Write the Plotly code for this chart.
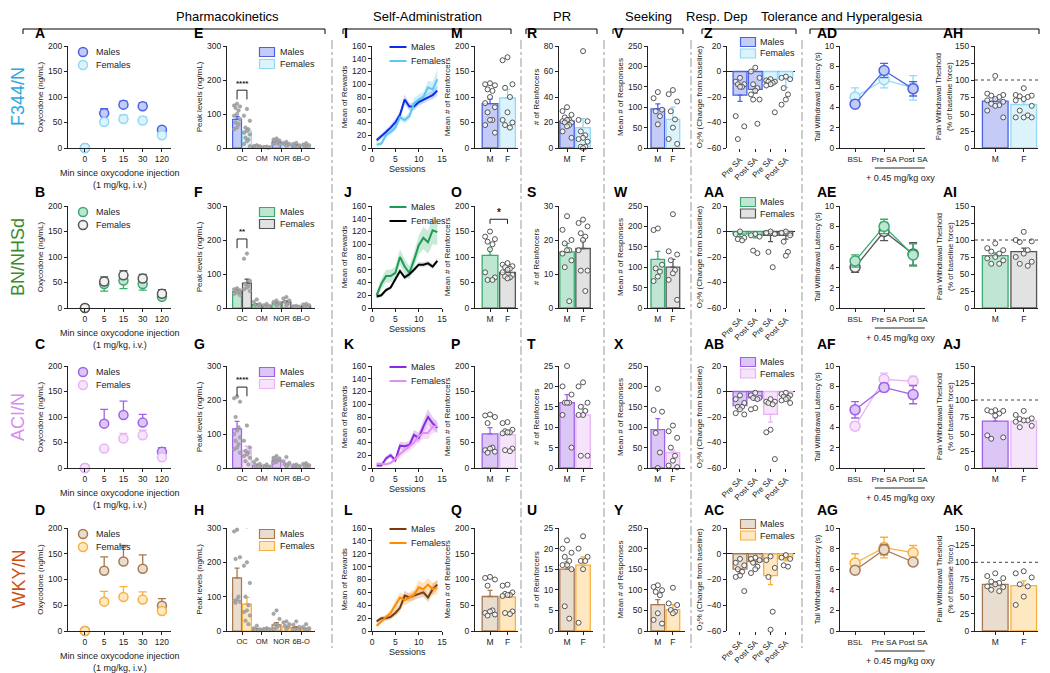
import plotly.graph_objects as go

W, H = 1050, 673
FONT = "Arial, Liberation Sans, sans-serif"
INK = "#222222"

# ---------------- data ----------------
STRAINS = ["F344/N", "BN/NHSd", "ACI/N", "WKY/N"]
STRAIN_COLORS = ["#29a9e1", "#3c8c2c", "#d98cf2", "#cc4e12"]
MALE_EDGE = ["#4a63e6", "#3aaa70", "#a060e8", "#a87850"]
MALE_FILL = ["#c3cbf6", "#bfe6d2", "#dcc6f6", "#e9ddd0"]
FEMALE_EDGE = ["#92d9f6", "#555555", "#e8b4f6", "#f8b040"]
FEMALE_FILL = ["#dcf3fc", "#e2e2e2", "#f6e4fb", "#fde8c2"]
MALE_LINE = ["#0a2ee6", "#1f9a55", "#8a2be2", "#7a3b0c"]
FEMALE_LINE = ["#5cc8f2", "#000000", "#e090f0", "#ff8a00"]
MALE_BAND = ["rgba(80,100,230,0.25)", "rgba(40,170,100,0.25)", "rgba(140,60,220,0.25)", "rgba(150,90,40,0.25)"]
FEMALE_BAND = ["rgba(90,200,240,0.30)", "rgba(120,120,120,0.25)", "rgba(225,145,240,0.30)", "rgba(255,160,40,0.30)"]
SEX_NAMES = ["Males", "Females"]

# Pharmacokinetics (A-D)
PK_TIMES = ["0", "5", "15", "30", "120"]
PK_M_MEAN = [[0, 68, 85, 82, 36], [0, 47, 54, 47, 22], [0, 87, 104, 89, 32], [0, 117, 135, 121, 49]]
PK_M_SEM = [[0, 9, 7, 7, 5], [0, 14, 16, 12, 5], [0, 28, 27, 16, 8], [0, 27, 31, 27, 14]]
PK_F_MEAN = [[0, 51, 57, 54, 25], [0, 52, 64, 58, 28], [0, 38, 58, 64, 21], [0, 57, 66, 61, 39]]
PK_F_SEM = [[0, 6, 8, 7, 4], [0, 9, 9, 8, 8], [0, 4, 10, 10, 6], [0, 20, 20, 15, 3]]

# Peak levels (E-H)
METABS = ["OC", "OM", "NOR", "6B-O"]
PEAK_M_MEAN = [[84, 5, 18, 8], [48, 10, 14, 4], [115, 8, 23, 6], [155, 5, 18, 10]]
PEAK_M_SEM = [[8, 1, 2, 2], [5, 3, 2, 1], [22, 3, 3, 1], [28, 2, 6, 3]]
PEAK_F_MEAN = [[50, 3, 10, 7], [73, 6, 18, 6], [52, 4, 12, 8], [78, 5, 12, 7]]
PEAK_F_SEM = [[8, 1, 2, 2], [12, 1, 3, 1], [12, 1, 3, 1], [20, 1, 3, 2]]
PEAK_M_DOTS = [
    [[130, 125, 122, 118, 110, 100, 95, 85, 75, 70, 60, 55], [8, 6, 5, 4, 3, 3], [28, 25, 22, 20, 18, 15, 12, 10], [15, 12, 8, 5, 3]],
    [[58, 55, 52, 50, 48, 45, 42, 38], [25, 18, 12, 8, 5, 3], [22, 18, 15, 12, 10, 8], [6, 5, 4, 3, 2]],
    [[210, 205, 195, 150, 120, 110, 100, 90, 80, 70, 60, 55, 45], [25, 18, 12, 8, 5], [35, 30, 28, 25, 22, 18, 15], [10, 8, 6, 4, 3]],
    [[295, 290, 215, 210, 100, 92, 88, 85, 82], [15, 8, 5, 3, 2], [60, 50, 35, 20, 15, 10, 5], [28, 18, 12, 5, 3]],
]
PEAK_F_DOTS = [
    [[115, 95, 80, 60, 55, 50, 45, 40, 30, 25, 20, 12, 5], [4, 3, 2, 2, 1], [18, 15, 12, 10, 8, 6], [14, 10, 8, 5, 3]],
    [[160, 145, 80, 70, 65, 60, 55, 50], [12, 8, 6, 4, 3], [32, 28, 22, 18, 12, 8], [12, 10, 8, 5, 3]],
    [[125, 80, 60, 50, 45, 40, 35, 30, 20, 10], [10, 6, 4, 3, 2], [32, 20, 15, 10, 8, 5], [14, 12, 8, 6, 4]],
    [[200, 190, 140, 100, 75, 60, 55, 45, 30, 20], [8, 6, 5, 4, 3], [28, 25, 20, 15, 10, 5], [20, 12, 8, 5, 3]],
]
PEAK_SIG = ["****", "**", "****", "***"]
PEAK_SIG_Y = [170, 203, 238, 326]

# Self-administration (I-L)
SESSIONS = list(range(1, 15))
SA_M_MEAN = [
    [12, 18, 25, 32, 40, 52, 76, 65, 65, 72, 76, 80, 83, 90],
    [20, 38, 50, 50, 55, 80, 65, 55, 75, 98, 110, 103, 122, 119],
    [4, 4, 15, 20, 12, 35, 34, 36, 52, 47, 65, 80, 70, 63],
    [15, 20, 20, 22, 28, 36, 55, 52, 55, 58, 60, 52, 65, 72],
]
SA_M_SEM = [
    [4, 4, 5, 5, 6, 6, 8, 6, 6, 6, 6, 6, 7, 8],
    [5, 8, 10, 10, 10, 12, 12, 10, 12, 15, 18, 18, 22, 20],
    [2, 2, 4, 4, 4, 6, 6, 6, 8, 8, 10, 12, 10, 8],
    [3, 3, 4, 4, 5, 6, 8, 6, 6, 7, 7, 7, 8, 8],
]
SA_F_MEAN = [
    [5, 7, 20, 25, 32, 48, 44, 50, 70, 76, 80, 95, 92, 108],
    [18, 20, 28, 32, 45, 58, 48, 53, 60, 68, 68, 70, 65, 74],
    [7, 6, 6, 8, 14, 22, 28, 33, 40, 50, 55, 55, 65, 66],
    [8, 15, 22, 28, 40, 52, 48, 52, 56, 68, 65, 72, 65, 68],
]
SA_F_SEM = [
    [3, 3, 4, 4, 5, 5, 5, 6, 8, 8, 8, 10, 12, 15],
    [3, 3, 3, 3, 4, 4, 4, 4, 4, 4, 4, 4, 4, 4],
    [2, 2, 2, 3, 4, 5, 6, 6, 8, 8, 10, 10, 10, 10],
    [3, 3, 4, 5, 8, 8, 8, 8, 8, 10, 10, 10, 10, 10],
]

SEX_LABELS = ["M", "F"]

# Mean # of reinforcers (M, O, P, Q)
REIN_M_MEAN = [87, 103, 67, 67]
REIN_M_SEM = [9, 13, 12, 12]
REIN_F_MEAN = [98, 70, 65, 66]
REIN_F_SEM = [17, 4, 5, 5]
REIN_M_DOTS = [
    [127, 125, 123, 115, 112, 100, 88, 80, 70, 55, 55, 45, 30],
    [150, 140, 135, 130, 125, 115, 70, 60, 55, 55],
    [105, 103, 100, 88, 40, 38, 35, 32, 30],
    [105, 103, 100, 88, 40, 38, 35, 32, 30],
]
REIN_F_DOTS = [
    [178, 172, 125, 118, 100, 70, 55, 50, 45, 40],
    [88, 85, 82, 80, 77, 75, 70, 65, 62, 60, 58],
    [90, 88, 75, 72, 70, 70, 68, 38, 35, 33],
    [90, 88, 75, 72, 70, 70, 68, 38, 35, 33],
]

# PR (R-U)
PR_M_MEAN = [21, 16.5, 16, 15]
PR_M_SEM = [2, 2.5, 2, 1.8]
PR_F_MEAN = [16, 17.5, 13, 16]
PR_F_SEM = [7, 2.2, 2.5, 2]
PR_YMAX = [80, 30, 25, 25]
PR_DTICK = [20, 10, 5, 5]
PR_M_DOTS = [
    [32, 29, 26, 24, 22, 22, 21, 20, 20, 18, 17, 13, 8],
    [27, 23, 20, 19, 17, 17, 16, 14, 12, 2],
    [25, 20, 18, 16, 16, 16, 13, 5],
    [22, 20, 19, 18, 17, 16, 16, 15, 6, 3],
]
PR_F_DOTS = [
    [76, 22, 21, 13, 10, 8, 7, 5, 1, 1, 0],
    [26, 25, 24, 22, 21, 20, 17, 11, 11, 5],
    [21, 20, 16, 15, 14, 13, 13, 3, 3],
    [23, 20, 18, 17, 17, 15, 2],
]

# Seeking (V-Y)
SEEK_M_MEAN = [96, 119, 94, 64]
SEEK_M_SEM = [12, 20, 27, 12]
SEEK_F_MEAN = [70, 100, 38, 52]
SEEK_F_SEM = [30, 19, 6, 12]
SEEK_M_DOTS = [
    [137, 122, 94, 90, 78, 58],
    [195, 191, 106, 97, 89, 77, 66],
    [194, 142, 138, 86, 38, 0],
    [111, 107, 99, 95, 87, 43, 27, 18],
]
SEEK_F_DOTS = [
    [142, 132, 114, 90, 70, 50, 22, 10],
    [230, 139, 131, 117, 93, 85, 69, 20],
    [104, 90, 74, 50, 30, 18, 6, 2],
    [105, 67, 63, 51, 47, 43],
]

# Respiratory depression (Z-AC): Males Pre, Males Post, Females Pre, Females Post
RESP_LABELS = ["Pre SA", "Post SA", "Pre SA", "Post SA"]
RESP_MEAN = [[-18.5, -14, -8.5, -5.5], [-2, -3, -3, -3], [-11, -5, -18, -3], [-12, -6, -17, -4]]
RESP_SEM = [[5, 3, 3, 7], [2, 2, 5, 3], [3, 2, 6, 1], [3, 2, 7, 1.5]]
RESP_DOTS = [
    [[-5, -8, -10, -10, -12, -12, -35, -43, -53], [3, 0, -5, -10, -13, -15, -18, -22, -22, -41],
     [-6, -7, -8, -8, -9, -10, -11, -32], [-4, -5, -6, -13, -18, -22, -26]],
    [[0, -2, -5, -6, -7], [-2, -3, -4, -15, -17], [0, -1, -2, -16, -28], [0, -1, -3, -8, -16, -19]],
    [[-3, -6, -9, -12, -12, -14, -17, -18], [-1, -3, -5, -5, -6, -13, -14],
     [-6, -8, -8, -9, -10, -30, -32, -53], [-1, -2, -3, -4, -5, -6, -7, -9]],
    [[-4, -7, -9, -12, -14, -17, -18, -29], [-3, -4, -5, -7, -10, -12, -15],
     [-2, -5, -11, -18, -45, -59], [-1, -3, -4, -9, -10]],
]

# Tail withdrawal (AD-AG)
TAIL_LABELS = ["BSL", "Pre SA", "Post SA"]
TAIL_M = [[4.3, 7.6, 5.8], [4.6, 8.0, 5.2], [5.7, 7.9, 7.2], [5.9, 7.9, 6.7]]
TAIL_M_SEM = [[0.3, 0.7, 0.7], [0.6, 0.7, 1.1], [0.8, 0.4, 0.9], [0.3, 0.5, 0.3]]
TAIL_F = [[5.0, 6.7, 5.9], [4.0, 7.5, 5.3], [4.1, 8.7, 8.5], [6.6, 8.1, 7.6]]
TAIL_F_SEM = [[0.9, 0.8, 1.2], [0.5, 0.9, 1.1], [0.4, 0.6, 0.5], [0.9, 1.0, 0.7]]

# Pain withdrawal threshold (AH-AK)
PAIN_M_MEAN = [69, 77, 69, 68]
PAIN_M_SEM = [4, 4, 5, 4]
PAIN_F_MEAN = [64, 83, 69, 66]
PAIN_F_SEM = [4, 5, 3, 7]
PAIN_M_DOTS = [
    [106, 80, 78, 77, 75, 72, 70, 68, 65, 63, 62, 55, 45],
    [95, 88, 85, 83, 80, 75, 73, 70, 65, 65],
    [85, 85, 84, 83, 80, 77, 48, 45, 43],
    [84, 80, 77, 72, 70, 68, 65, 64, 60, 58],
]
PAIN_F_DOTS = [
    [88, 78, 77, 76, 75, 72, 70, 62, 55, 48, 45, 45, 45],
    [112, 100, 98, 97, 85, 80, 75, 68, 65, 62],
    [84, 78, 73, 72, 70, 70, 68, 62, 60],
    [87, 84, 78, 68, 65, 50, 38],
]

LETTERS = {
    "pk": ["A", "B", "C", "D"], "peak": ["E", "F", "G", "H"], "sess": ["I", "J", "K", "L"],
    "rein": ["M", "O", "P", "Q"], "pr": ["R", "S", "T", "U"], "seek": ["V", "W", "X", "Y"],
    "resp": ["Z", "AA", "AB", "AC"], "tail": ["AD", "AE", "AF", "AG"], "pain": ["AH", "AI", "AJ", "AK"],
}
SECTIONS = [("Pharmacokinetics", 23, 325), ("Self-Administration", 343, 511), ("PR", 526, 597),
            ("Seeking", 613, 683), ("Resp. Dep", 702, 796), ("Tolerance and Hyperalgesia", 810, 1039)]
PK_XTITLE = ["Min since oxycodone injection", "(1 mg/kg, i.v.)"]
PAIN_YTITLE = ["Pain Withdrawal Theshold", "(% of baseline force)"]

# ---------------- layout geometry (pixels) ----------------
ROW_TOP = [46, 206, 366, 528]
ROW_BOT = [148, 308, 468, 631]
LETTER_Y = [33, 192, 344, 510]
COLS = {
    "pk": (68, 171, [-0.88, 4.47]),
    "peak": (227, 315, [-0.76, 3.7]),
    "sess": (372, 442, [0, 15]),
    "rein": (475, 518, [-0.86, 1.6]),
    "pr": (559, 593, [-0.5, 1.62]),
    "seek": (648, 685, [-0.65, 1.8]),
    "resp": (727, 795, [-0.85, 3.6]),
    "tail": (840, 925, [-0.52, 2.41]),
    "pain": (975, 1038, [-0.71, 1.5]),
}
LETTER_X = {"pk": 33, "peak": 192, "sess": 342, "rein": 449, "pr": 525, "seek": 612,
            "resp": 702, "tail": 815, "pain": 941}
PAIN_TITLE_X = [939, 950]
DASH_X = [332, 521, 604, 691, 802]
TICKF = dict(size=8.5, color=INK, family=FONT)

fig = go.Figure()
lay = {}
shapes = []
annots = []
ax_n = [0]


def P(xpx, ypx):
    return xpx / W, 1 - ypx / H


def make_axes(col, r, x_extra, y_extra):
    ax_n[0] += 1
    n = ax_n[0]
    sfx = "" if n == 1 else str(n)
    x0, x1, xr = COLS[col]
    base = dict(showline=True, linecolor=INK, linewidth=1, ticks="outside", ticklen=3, tickwidth=1,
                tickcolor=INK, showgrid=False, zeroline=False, tickfont=TICKF,
                automargin=False, fixedrange=True)
    xa = dict(base, domain=[x0 / W, x1 / W], range=xr, anchor="y" + sfx, tickangle=0)
    ya = dict(base, domain=[1 - ROW_BOT[r] / H, 1 - ROW_TOP[r] / H], anchor="x" + sfx)
    xa.update(x_extra)
    ya.update(y_extra)
    lay["xaxis" + sfx] = xa
    lay["yaxis" + sfx] = ya
    lx, ly = P(LETTER_X[col], LETTER_Y[r])
    annots.append(dict(text="<b>%s</b>" % LETTERS[col][r], x=lx, y=ly,
                       xref="paper", yref="paper", xanchor="left", yanchor="middle", showarrow=False,
                       font=dict(size=14, color="#000", family=FONT)))
    return "x" + sfx, "y" + sfx


def xtitle(xa, ya, text, dy):
    annots.append(dict(text=text, x=0.5, y=-dy, xref=xa + " domain", yref=ya + " domain", showarrow=False,
                       xanchor="center", yanchor="top", font=dict(size=9, color=INK, family=FONT)))


def manual_legend(kind, xc, yc, gap, tgap, colors):
    # colors: list of (edge, fill) for Males, Females
    for k, (edge, fill) in enumerate(colors):
        y = yc + k * gap
        if kind == "circle":
            x0, y0 = P(xc - 4.5, y - 4.5)
            x1, y1 = P(xc + 4.5, y + 4.5)
            shapes.append(dict(type="circle", xref="paper", yref="paper", x0=x0, x1=x1, y0=y0, y1=y1,
                               fillcolor=fill, line=dict(color=edge, width=1.5)))
        elif kind == "rect":
            x0, y0 = P(xc - 7.5, y - 4.5)
            x1, y1 = P(xc + 7.5, y + 4.5)
            shapes.append(dict(type="rect", xref="paper", yref="paper", x0=x0, x1=x1, y0=y0, y1=y1,
                               fillcolor=fill, line=dict(color=edge, width=1.2)))
        else:
            x0, y0 = P(xc - 8.5, y)
            x1, _ = P(xc + 8.5, y)
            shapes.append(dict(type="line", xref="paper", yref="paper", x0=x0, x1=x1, y0=y0, y1=y0,
                               line=dict(color=edge, width=2)))
        tx, ty = P(xc + tgap, y)
        annots.append(dict(text=SEX_NAMES[k], x=tx, y=ty, xref="paper", yref="paper", xanchor="left",
                           yanchor="middle", showarrow=False, font=dict(size=9, color=INK, family=FONT)))


def ytitle(t, size=8):
    return dict(text=t, font=dict(size=size, color=INK, family=FONT), standoff=3)


def spread(vals, center, half):
    pattern = [0.0, -1.0, 1.0, -0.5, 0.5]
    return [center + pattern[i % 5] * half for i in range(len(vals))]


def err_up(vals, color, w=2.5):
    return dict(type="data", symmetric=False, array=vals, arrayminus=[0] * len(vals),
                color=color, thickness=1.3, width=w)


def err_down(vals, color, w=2.5):
    return dict(type="data", symmetric=False, array=[0] * len(vals), arrayminus=vals,
                color=color, thickness=1.3, width=w)


DOT = dict(size=5, color="rgba(255,255,255,0.7)", line=dict(color="#555", width=1))


def two_bars(col, r, mm, ms, fm, fs, mdots, fdots, yextra):
    xa, ya = make_axes(col, r, dict(tickvals=[0, 1], ticktext=SEX_LABELS), yextra)
    for i, (mean, sem, edge, fill) in enumerate([(mm, ms, MALE_EDGE[r], MALE_FILL[r]),
                                                  (fm, fs, FEMALE_EDGE[r], FEMALE_FILL[r])]):
        fig.add_trace(go.Bar(x=[i], y=[mean], width=0.9, marker=dict(color=fill, line=dict(color=edge, width=1.3)),
                             error_y=err_up([sem], edge), xaxis=xa, yaxis=ya, showlegend=False))
    for i, dots in enumerate([mdots, fdots]):
        fig.add_trace(go.Scatter(x=spread(dots, i, 0.28), y=dots, mode="markers", marker=DOT,
                                 xaxis=xa, yaxis=ya, showlegend=False, cliponaxis=False))
    return xa, ya


for r in range(4):
    top, bot = ROW_TOP[r], ROW_BOT[r]
    hgt = bot - top
    lx, ly = P(18, (top + bot) / 2)
    annots.append(dict(text=STRAINS[r], x=lx, y=ly, xref="paper", yref="paper",
                       textangle=-90, showarrow=False, xanchor="center", yanchor="middle",
                       font=dict(size=18, color=STRAIN_COLORS[r], family=FONT)))

    # ---- PK ----
    xa, ya = make_axes("pk", r, dict(tickvals=list(range(5)), ticktext=PK_TIMES),
                       dict(range=[0, 200], dtick=50, title=ytitle("Oxycodone (ng/mL)")))
    xtitle(xa, ya, PK_XTITLE[0], 18 / hgt)
    xtitle(xa, ya, PK_XTITLE[1], 30 / hgt)
    fcol_fill = "#f2f2f2" if r == 1 else FEMALE_FILL[r]
    manual_legend("circle", 83, top + 6, 13, 11,
                  [(MALE_EDGE[r], MALE_FILL[r]), (FEMALE_EDGE[r], fcol_fill)])
    xs = list(range(5))
    merr = err_down(PK_M_SEM[r], MALE_EDGE[r], 4) if r == 1 else err_up(PK_M_SEM[r], MALE_EDGE[r], 4)
    fig.add_trace(go.Scatter(x=xs, y=PK_M_MEAN[r], mode="markers", name="Males",
                             marker=dict(size=9, color=MALE_FILL[r], line=dict(color=MALE_EDGE[r], width=1.5)),
                             error_y=merr, xaxis=xa, yaxis=ya, showlegend=False, cliponaxis=False))
    fig.add_trace(go.Scatter(x=xs, y=PK_F_MEAN[r], mode="markers", name="Females",
                             marker=dict(size=9, color=fcol_fill, line=dict(color=FEMALE_EDGE[r], width=1.5)),
                             error_y=err_up(PK_F_SEM[r], FEMALE_EDGE[r], 4), xaxis=xa, yaxis=ya,
                             showlegend=False, cliponaxis=False))

    # ---- Peak levels ----
    xa, ya = make_axes("peak", r, dict(tickvals=[0, 1, 2, 3], ticktext=METABS,
                                       tickfont=dict(size=7.5, color=INK, family=FONT)),
                       dict(range=[0, 300], dtick=100, title=ytitle("Peak levels (ng/mL)")))
    manual_legend("rect", 267, top + 6, 12, 11,
                  [(MALE_EDGE[r], MALE_FILL[r]), (FEMALE_EDGE[r], FEMALE_FILL[r])])
    for sex, (means, sems, edge, fill, off, nm) in enumerate([
            (PEAK_M_MEAN[r], PEAK_M_SEM[r], MALE_EDGE[r], MALE_FILL[r], -0.25, "Males"),
            (PEAK_F_MEAN[r], PEAK_F_SEM[r], FEMALE_EDGE[r], FEMALE_FILL[r], 0.25, "Females")]):
        fig.add_trace(go.Bar(x=[i + off for i in range(4)], y=means, width=0.45, name=nm,
                             marker=dict(color=fill, line=dict(color=edge, width=1.2)),
                             error_y=err_up(sems, edge), xaxis=xa, yaxis=ya, showlegend=False))
    for sex, (dots_all, off) in enumerate([(PEAK_M_DOTS[r], -0.25), (PEAK_F_DOTS[r], 0.25)]):
        dx, dy = [], []
        for i, dots in enumerate(dots_all):
            dx += spread(dots, i + off, 0.15)
            dy += dots
        fig.add_trace(go.Scatter(x=dx, y=dy, mode="markers",
                                 marker=dict(size=3.5, color="#a9a9a9", line=dict(color="#8a8a8a", width=0.5)),
                                 xaxis=xa, yaxis=ya, showlegend=False, cliponaxis=False))
    sy = PEAK_SIG_Y[r]
    shapes.append(dict(type="path", xref=xa, yref=ya,
                       path="M -0.25,%s L -0.25,%s L 0.25,%s L 0.25,%s" % (sy - 27, sy, sy, sy - 27),
                       line=dict(color=INK, width=1)))
    annots.append(dict(text="<b>%s</b>" % PEAK_SIG[r], x=0, y=sy + 2, xref=xa, yref=ya, showarrow=False,
                       yanchor="bottom", font=dict(size=8, color=INK, family=FONT)))

    # ---- Sessions ----
    xa, ya = make_axes("sess", r, dict(range=[0, 15], tickvals=[0, 5, 10, 15]),
                       dict(range=[0, 160], dtick=20, title=ytitle("Mean of Rewards")))
    xtitle(xa, ya, "Sessions", 14 / hgt)
    manual_legend("line", 398, top + 1, 14, 11, [(MALE_LINE[r], None), (FEMALE_LINE[r], None)])
    for mean, sem, bandc in [(SA_M_MEAN[r], SA_M_SEM[r], MALE_BAND[r]), (SA_F_MEAN[r], SA_F_SEM[r], FEMALE_BAND[r])]:
        up = [m + s for m, s in zip(mean, sem)]
        lo = [m - s for m, s in zip(mean, sem)]
        fig.add_trace(go.Scatter(x=SESSIONS + SESSIONS[::-1], y=up + lo[::-1], fill="toself", fillcolor=bandc,
                                 line=dict(width=0), mode="lines", hoverinfo="skip", xaxis=xa, yaxis=ya,
                                 showlegend=False))
    fig.add_trace(go.Scatter(x=SESSIONS, y=SA_M_MEAN[r], mode="lines", name="Males",
                             line=dict(color=MALE_LINE[r], width=2), xaxis=xa, yaxis=ya, showlegend=False))
    fig.add_trace(go.Scatter(x=SESSIONS, y=SA_F_MEAN[r], mode="lines", name="Females",
                             line=dict(color=FEMALE_LINE[r], width=2), xaxis=xa, yaxis=ya, showlegend=False))

    # ---- Mean # of reinforcers ----
    xa, ya = two_bars("rein", r, REIN_M_MEAN[r], REIN_M_SEM[r], REIN_F_MEAN[r], REIN_F_SEM[r],
                      REIN_M_DOTS[r], REIN_F_DOTS[r],
                      dict(range=[0, 200], dtick=50, title=ytitle("Mean # of Reinforcers")))
    if r == 1:
        shapes.append(dict(type="path", xref=xa, yref=ya, path="M 0,165 L 0,174 L 1,174 L 1,165",
                           line=dict(color=INK, width=1)))
        annots.append(dict(text="<b>*</b>", x=0.5, y=173, xref=xa, yref=ya, showarrow=False, yanchor="bottom",
                           font=dict(size=10, color=INK, family=FONT)))

    # ---- PR ----
    two_bars("pr", r, PR_M_MEAN[r], PR_M_SEM[r], PR_F_MEAN[r], PR_F_SEM[r], PR_M_DOTS[r], PR_F_DOTS[r],
             dict(range=[0, PR_YMAX[r]], dtick=PR_DTICK[r], title=ytitle("# of Reinforcers")))

    # ---- Seeking ----
    two_bars("seek", r, SEEK_M_MEAN[r], SEEK_M_SEM[r], SEEK_F_MEAN[r], SEEK_F_SEM[r], SEEK_M_DOTS[r],
             SEEK_F_DOTS[r], dict(range=[0, 250], dtick=50, title=ytitle("Mean # of Responses")))

    # ---- Respiratory depression ----
    xa, ya = make_axes("resp", r,
                       dict(tickvals=[0, 1, 2, 3], ticktext=RESP_LABELS, tickangle=-45, showline=False,
                            tickfont=dict(size=8, color=INK, family=FONT)),
                       dict(range=[-60, 20], dtick=20, zeroline=True, zerolinecolor=INK, zerolinewidth=1,
                            title=ytitle("O<sub>2</sub>% (Change from baseline)")))
    manual_legend("rect", 748, top - 4, 11.5, 10,
                  [(MALE_EDGE[r], MALE_FILL[r]), (FEMALE_EDGE[r], FEMALE_FILL[r])])
    for sex, (idx, edge, fill, nm) in enumerate([([0, 1], MALE_EDGE[r], MALE_FILL[r], "Males"),
                                                  ([2, 3], FEMALE_EDGE[r], FEMALE_FILL[r], "Females")]):
        fig.add_trace(go.Bar(x=idx, y=[RESP_MEAN[r][i] for i in idx], width=0.9, name=nm,
                             marker=dict(color=fill, line=dict(color=edge, width=1.3)),
                             error_y=err_down([RESP_SEM[r][i] for i in idx], edge),
                             xaxis=xa, yaxis=ya, showlegend=False))
    dx, dy = [], []
    for i, dots in enumerate(RESP_DOTS[r]):
        dx += spread(dots, i, 0.28)
        dy += dots
    fig.add_trace(go.Scatter(x=dx, y=dy, mode="markers", marker=DOT, xaxis=xa, yaxis=ya,
                             showlegend=False, cliponaxis=False))

    # ---- Tail withdrawal ----
    xa, ya = make_axes("tail", r, dict(tickvals=[0, 1, 2], ticktext=TAIL_LABELS,
                                       tickfont=dict(size=8, color=INK, family=FONT)),
                       dict(range=[0, 10], dtick=2, title=ytitle("Tail Withdrawal Latency (s)", 7.5)))
    ffill = "#f4f4f4" if r == 1 else FEMALE_FILL[r]
    fig.add_trace(go.Scatter(x=[0, 1, 2], y=TAIL_F[r], mode="lines+markers",
                             line=dict(color=FEMALE_EDGE[r], width=1.3),
                             marker=dict(size=10, color=ffill, line=dict(color=FEMALE_EDGE[r], width=1.5)),
                             error_y=dict(type="data", array=TAIL_F_SEM[r], color=FEMALE_EDGE[r], thickness=1.3, width=4),
                             xaxis=xa, yaxis=ya, showlegend=False, cliponaxis=False))
    fig.add_trace(go.Scatter(x=[0, 1, 2], y=TAIL_M[r], mode="lines+markers",
                             line=dict(color=MALE_EDGE[r], width=1.3),
                             marker=dict(size=10, color=MALE_FILL[r], line=dict(color=MALE_EDGE[r], width=1.5)),
                             error_y=dict(type="data", array=TAIL_M_SEM[r], color=MALE_EDGE[r], thickness=1.3, width=4),
                             xaxis=xa, yaxis=ya, showlegend=False, cliponaxis=False))
    shapes.append(dict(type="line", xref=xa, yref=ya + " domain", x0=0.68, x1=2.4, y0=-20 / hgt, y1=-20 / hgt,
                       line=dict(color=INK, width=1)))
    annots.append(dict(text="+ 0.45 mg/kg oxy", x=1.55, y=-23 / hgt, xref=xa, yref=ya + " domain",
                       showarrow=False, yanchor="top", font=dict(size=9, color=INK, family=FONT)))

    # ---- Pain withdrawal ----
    xa, ya = two_bars("pain", r, PAIN_M_MEAN[r], PAIN_M_SEM[r], PAIN_F_MEAN[r], PAIN_F_SEM[r],
                      PAIN_M_DOTS[r], PAIN_F_DOTS[r], dict(range=[0, 150], dtick=25))
    for k, xp in enumerate(PAIN_TITLE_X):
        tx, ty = P(xp, (top + bot) / 2)
        annots.append(dict(text=PAIN_YTITLE[k], x=tx, y=ty, xref="paper", yref="paper", textangle=-90,
                           showarrow=False, xanchor="center", yanchor="middle",
                           font=dict(size=7.5, color=INK, family=FONT)))
    shapes.append(dict(type="line", xref=xa + " domain", yref=ya, x0=0, x1=1, y0=100, y1=100,
                       line=dict(color="#444", width=1, dash="dot")))

# section headers & brackets
for name, x0, x1 in SECTIONS:
    cx, cy = P((x0 + x1) / 2, 16)
    annots.append(dict(text=name, x=cx, y=cy, xref="paper", yref="paper", yanchor="middle",
                       showarrow=False, font=dict(size=13, color="#000", family=FONT)))
    shapes.append(dict(type="path", xref="paper", yref="paper",
                       path="M %f,%f L %f,%f L %f,%f L %f,%f" % (x0 / W, 1 - 34 / H, x0 / W, 1 - 29 / H,
                                                                   x1 / W, 1 - 29 / H, x1 / W, 1 - 34 / H),
                       line=dict(color="#000", width=1)))
for xp in DASH_X:
    shapes.append(dict(type="line", xref="paper", yref="paper", x0=xp / W, x1=xp / W, y0=1 - 40 / H,
                       y1=1 - 648 / H, line=dict(color="#9a9a9a", width=1, dash="dashdot")))

fig.update_layout(width=W, height=H, margin=dict(l=0, r=0, t=0, b=0), paper_bgcolor="white",
                  plot_bgcolor="white", barmode="overlay", showlegend=False,
                  font=dict(family=FONT, size=9, color=INK), shapes=shapes, annotations=annots, **lay)
fig.write_html("out.html", config={"displayModeBar": False, "staticPlot": True},
               post_script="document.body.style.margin='0';document.body.style.overflow='hidden';")
